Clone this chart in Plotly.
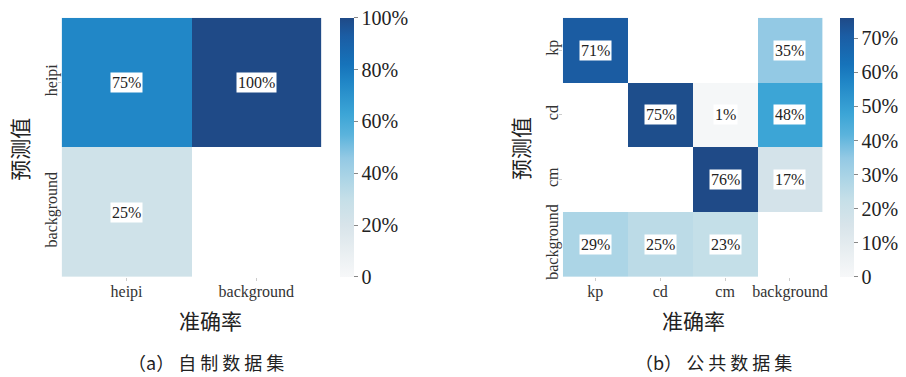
import plotly.graph_objects as go

W, H = 906, 377

# ---- data ----
a_cols = ["heipi", "background"]
a_rows = ["heipi", "background"]
a_vals = [[0.75, 1.00],
          [0.25, None]]

b_cols = ["kp", "cd", "cm", "background"]
b_rows = ["kp", "cd", "cm", "background"]
b_vals = [[0.71, None, None, 0.35],
          [None, 0.75, 0.01, 0.48],
          [None, None, 0.76, 0.17],
          [0.29, 0.25, 0.23, None]]

a_ticks = [0, 0.2, 0.4, 0.6, 0.8, 1.0]
a_ticktext = ["0", "20%", "40%", "60%", "80%", "100%"]
b_ticks = [0, 0.1, 0.2, 0.3, 0.4, 0.5, 0.6, 0.7]
b_ticktext = ["0", "10%", "20%", "30%", "40%", "50%", "60%", "70%"]

x_title = "准确率"
y_title = "预测值"
cap_a = "（a） 自 制 数 据 集"
cap_b = "（b） 公 共 数 据 集"

cscale = [
    [0.00, "#f7f8f9"],
    [0.10, "#e8eef1"],
    [0.20, "#d8e4ea"],
    [0.30, "#c5dfe8"],
    [0.38, "#acd5e6"],
    [0.46, "#93c9e4"],
    [0.55, "#5ab3dc"],
    [0.63, "#3ca5d6"],
    [0.75, "#2187c7"],
    [0.82, "#1673ba"],
    [0.93, "#1b5da4"],
    [1.00, "#1f4a87"],
]

SERIF = "Liberation Serif, Times New Roman, serif"
CJK = "Noto Sans CJK SC"

def px_x(p):
    return p / W

def px_y(p):
    return 1 - p / H

top, bot = 18, 279
ydom = [px_y(bot), px_y(top)]

fig = go.Figure()

def add_heat(vals, cols, rows, zmax, ticks, ticktext, xa, ya, cbx):
    fig.add_trace(go.Heatmap(
        z=vals, x=cols, y=rows, zmin=0, zmax=zmax,
        colorscale=cscale, xaxis=xa, yaxis=ya, hoverongaps=False,
        colorbar=dict(
            x=px_x(cbx), xanchor="left", xpad=0,
            y=px_y(top), yanchor="top", ypad=0,
            len=(bot - top) / H, lenmode="fraction", thickness=14,
            outlinewidth=0, tickvals=ticks, ticktext=ticktext,
            ticks="outside", ticklen=4, tickcolor="#888",
            tickfont=dict(family=SERIF, size=20, color="#222"),
        ),
    ))
    for i, r in enumerate(rows):
        for j, c in enumerate(cols):
            v = vals[i][j]
            if v is None:
                continue
            fig.add_annotation(
                x=c, y=r, xref=xa, yref=ya, text=f"{round(v*100)}%",
                showarrow=False, bgcolor="white", borderpad=1,
                font=dict(family=SERIF, size=16, color="#222"),
            )

add_heat(a_vals, a_cols, a_rows, 1.0, a_ticks, a_ticktext, "x", "y", 342)
add_heat(b_vals, b_cols, b_rows, 0.76, b_ticks, b_ticktext, "x2", "y2", 845)

axis_common = dict(
    showgrid=False, zeroline=False, showline=False,
    ticks="outside", ticklen=3, tickcolor="#ccc",
    tickfont=dict(family=SERIF, size=16, color="#333"),
)

fig.update_layout(
    width=W, height=H, margin=dict(l=0, r=0, t=0, b=0),
    paper_bgcolor="white", plot_bgcolor="white",
    showlegend=False,
    xaxis=dict(domain=[px_x(62), px_x(323)], anchor="y",
               ticklabelstandoff=-3, **axis_common),
    yaxis=dict(domain=ydom, anchor="x", autorange="reversed",
               tickangle=-90, ticklabelstandoff=-6, **axis_common),
    xaxis2=dict(domain=[px_x(566), px_x(827)], anchor="y2",
                ticklabelstandoff=-3, **axis_common),
    yaxis2=dict(domain=ydom, anchor="x2", autorange="reversed",
                tickangle=-90, ticklabelstandoff=-6, **axis_common),
)

def label(text, x, y, size, angle=0):
    fig.add_annotation(
        x=px_x(x), y=px_y(y), xref="paper", yref="paper", text=text,
        showarrow=False, textangle=angle, xanchor="center", yanchor="middle",
        font=dict(family=CJK, size=size, color="#222"),
    )

label(x_title, 212, 323, 21)
label(x_title, 697, 323, 21)
label(y_title, 19, 150, 21, -90)
label(y_title, 523, 150, 21, -90)
label(cap_a, 207, 365, 18)
label(cap_b, 717, 365, 18)

fig.write_html("out.html")
